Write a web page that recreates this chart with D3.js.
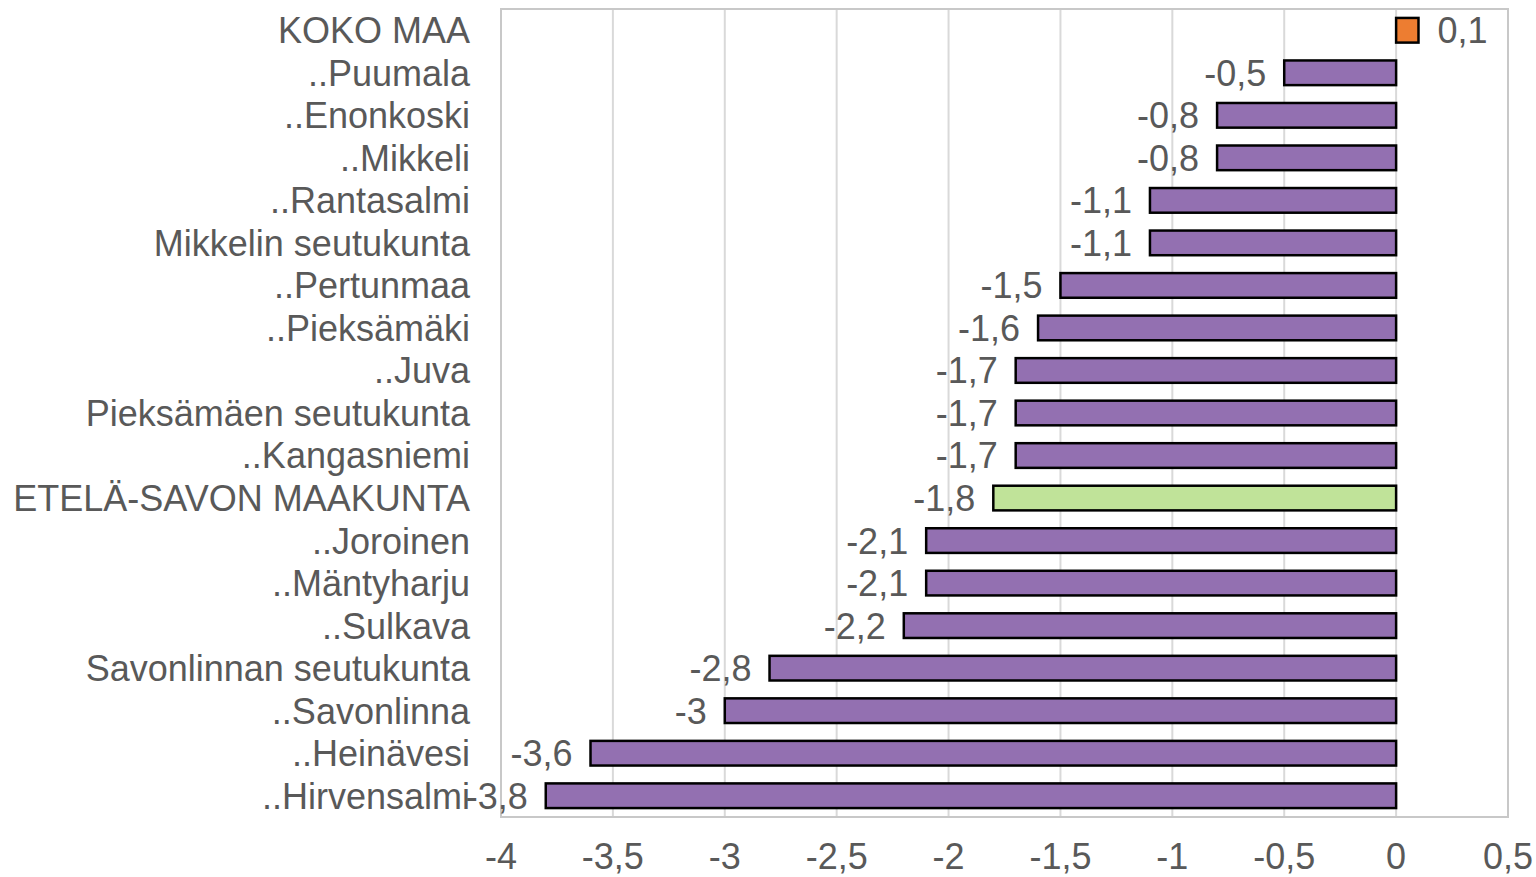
<!DOCTYPE html>
<html>
<head>
<meta charset="utf-8">
<script src="https://d3js.org/d3.v7.min.js"></script>
<style>
  body { margin: 0; background: #fff; }
  text { font-family: "Liberation Sans", Arial, sans-serif; fill: #595959; }
</style>
</head>
<body>
<div id="my_dataviz"></div>
<script>

// categories top to bottom
var categories = ["KOKO MAA", "..Puumala", "..Enonkoski", "..Mikkeli", "..Rantasalmi",
  "Mikkelin seutukunta", "..Pertunmaa", "..Pieksämäki", "..Juva", "Pieksämäen seutukunta",
  "..Kangasniemi", "ETELÄ-SAVON MAAKUNTA", "..Joroinen", "..Mäntyharju", "..Sulkava",
  "Savonlinnan seutukunta", "..Savonlinna", "..Heinävesi", "..Hirvensalmi"];
var values = [0.1, -0.5, -0.8, -0.8, -1.1, -1.1, -1.5, -1.6, -1.7, -1.7,
  -1.7, -1.8, -2.1, -2.1, -2.2, -2.8, -3, -3.6, -3.8];
var tickValues = [-4, -3.5, -3, -2.5, -2, -1.5, -1, -0.5, 0, 0.5];

var margin = {top: 9, right: 28, bottom: 60, left: 501},
    width = 1536 - margin.left - margin.right,
    height = 877 - margin.top - margin.bottom;

var svg = d3.select("#my_dataviz")
  .append("svg")
    .attr("width", 1536)
    .attr("height", 877)
  .append("g")
    .attr("transform", "translate(" + margin.left + "," + margin.top + ")");

var x = d3.scaleLinear()
  .domain([-4, 0.5])
  .range([0, width]);

var y = d3.scaleBand()
  .domain(categories)
  .range([0, height])
  .paddingInner(0.42)
  .paddingOuter(0.21);

var fmt = function(v) { return String(v).replace(".", ","); };

// gridlines
svg.selectAll("grid")
  .data(tickValues.slice(1, -1))
  .enter()
  .append("line")
    .attr("x1", function(d) { return x(d); })
    .attr("x2", function(d) { return x(d); })
    .attr("y1", 0)
    .attr("y2", height)
    .style("stroke", "#d9d9d9")
    .style("stroke-width", 2);

// plot frame
svg.append("rect")
  .attr("x", 0)
  .attr("y", 0)
  .attr("width", width)
  .attr("height", height)
  .style("fill", "none")
  .style("stroke", "#c8c8c8")
  .style("stroke-width", 2);

// bars
svg.selectAll("mybar")
  .data(categories)
  .enter()
  .append("rect")
    .attr("x", function(d, i) { return x(Math.min(0, values[i])); })
    .attr("y", function(d) { return y(d); })
    .attr("width", function(d, i) { return Math.abs(x(values[i]) - x(0)); })
    .attr("height", y.bandwidth())
    .style("fill", function(d, i) {
      if (d == "KOKO MAA") return "#ed7d31";
      if (d == "ETELÄ-SAVON MAAKUNTA") return "#c0e399";
      return "#9370b1";
    })
    .style("stroke", "#000")
    .style("stroke-width", 2.5);

// value labels
svg.selectAll("mylabels")
  .data(categories)
  .enter()
  .append("text")
    .attr("x", function(d, i) { return values[i] < 0 ? x(values[i]) - 18 : x(values[i]) + 19; })
    .attr("y", function(d) { return y(d) + y.bandwidth() / 2; })
    .attr("dy", "0.36em")
    .attr("text-anchor", function(d, i) { return values[i] < 0 ? "end" : "start"; })
    .style("font-size", "36px")
    .text(function(d, i) { return fmt(values[i]); });

// category labels
svg.selectAll("mycats")
  .data(categories)
  .enter()
  .append("text")
    .attr("x", -31)
    .attr("y", function(d) { return y(d) + y.bandwidth() / 2; })
    .attr("dy", "0.36em")
    .attr("text-anchor", "end")
    .style("font-size", "36px")
    .text(function(d) { return d; });

// x tick labels
svg.selectAll("myticks")
  .data(tickValues)
  .enter()
  .append("text")
    .attr("x", function(d) { return x(d); })
    .attr("y", height + 39)
    .attr("dy", "0.36em")
    .attr("text-anchor", "middle")
    .style("font-size", "36px")
    .text(function(d) { return fmt(d); });

</script>
</body>
</html>
